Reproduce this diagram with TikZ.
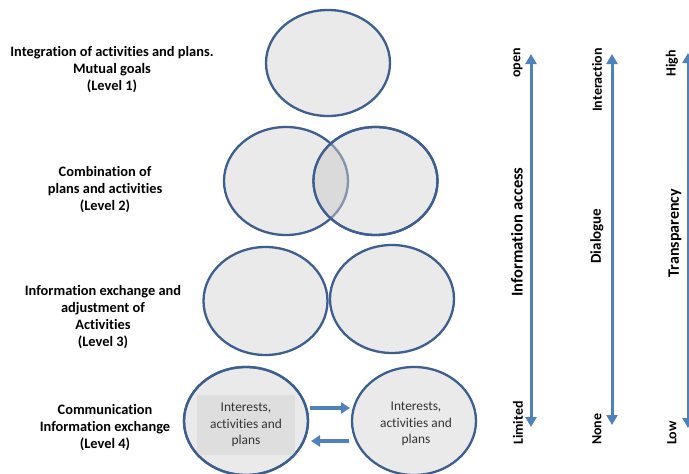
\documentclass[tikz,border=0pt]{standalone}
\usepackage{fontspec}
\setmainfont[Ligatures=NoCommon]{Carlito}
\usetikzlibrary{arrows.meta}
\definecolor{ellfill}{HTML}{EAEAEA}
\definecolor{ellline}{HTML}{3D5E8E}
\definecolor{overlapfill}{HTML}{DADADA}
\definecolor{fadeline}{HTML}{8593A8}
\definecolor{boxfill}{HTML}{DEDEDE}
\definecolor{arrblue}{HTML}{4F81BD}
\tikzset{
  ell/.style={draw=ellline, fill=ellfill, line width=2.3pt},
  lvl/.style={font=\fontsize{14.4}{17}\selectfont\bfseries, align=center},
  inner/.style={font=\fontsize{13.4}{16.5}\selectfont, align=center, text=black!80},
  vlab/.style={font=\fontsize{14}{15}\selectfont\bfseries, rotate=90, inner sep=0pt},
  vtitle/.style={font=\fontsize{15}{16}\selectfont\bfseries, rotate=90, inner sep=0pt},
  varrow/.style={draw=arrblue, line width=3pt, {Triangle[width=11pt,length=10pt]}-{Triangle[width=11pt,length=10pt]}},
  harrow/.style={draw=arrblue, line width=3.5pt, -{Triangle[width=11pt,length=9pt]}}
}
\begin{document}
\begin{tikzpicture}[x=1pt,y=-1pt]
\useasboundingbox (0,0) rectangle (689,474);
% Level 1
\draw[ell] (328,63) ellipse [x radius=62, y radius=53];
% Level 2
\draw[ell] (286,181) ellipse [x radius=62, y radius=54];
\draw[ell] (375.5,181) ellipse [x radius=62, y radius=54];
\begin{scope}
  \clip (286,181) ellipse [x radius=62, y radius=54];
  \fill[overlapfill] (375.5,181) ellipse [x radius=62, y radius=54];
\end{scope}
\begin{scope}
  \clip (375.5,181) ellipse [x radius=62, y radius=54];
  \draw[fadeline, line width=2.3pt] (286,181) ellipse [x radius=62, y radius=54];
\end{scope}
\draw[ellline, line width=2.3pt] (375.5,181) ellipse [x radius=62, y radius=54];
% Level 3
\draw[ell] (265.5,301) ellipse [x radius=62, y radius=54];
\draw[ell] (392,299) ellipse [x radius=62, y radius=54];
% Level 4
\draw[ell] (246,421) ellipse [x radius=62, y radius=54];
\fill[boxfill] (197,395) rectangle (295,455);
\draw[ell, fill=none] (246,421) ellipse [x radius=62, y radius=54];
\draw[ell] (414,421) ellipse [x radius=62, y radius=54];
\node[inner] (t4a) at (246,425) {Interests,\\activities and\\plans};
\node[inner] (t4b) at (416,424) {Interests,\\activities and\\plans};
\coordinate (ha1) at (310,408);
\coordinate (hb1) at (350,408);
\coordinate (ha2) at (349,441);
\coordinate (hb2) at (311,441);
\draw[harrow] (ha1) -- (hb1);
\draw[harrow] (ha2) -- (hb2);
% Level labels
\node[lvl] (l1) at (112,70) {Integration of activities and plans.\\Mutual goals\\(Level 1)};
\node[lvl] (l2) at (105,190) {Combination of\\plans and activities\\(Level 2)};
\node[lvl] (l3) at (103,317) {Information exchange and\\adjustment of\\Activities\\(Level 3)};
\node[lvl] (l4) at (105,428) {Communication\\Information exchange\\(Level 4)};
% Vertical scales
\coordinate (a1t) at (531,54);
\coordinate (a1b) at (531,427);
\coordinate (a2t) at (612,54);
\coordinate (a2b) at (612,425);
\coordinate (a3t) at (688,53);
\coordinate (a3b) at (688,428);
\draw[varrow] (a1b) -- (a1t);
\draw[varrow] (a2b) -- (a2t);
\draw[varrow] (a3b) -- (a3t);
\node[vlab, anchor=east] (o1) at (518,48) {open};
\node[vlab, anchor=west] (o2) at (518,445) {Limited};
\node[vtitle, font=\fontsize{16.5}{17}\selectfont\bfseries] (o3) at (517,232) {Information access};
\node[vlab, anchor=east] (d1) at (597,48) {Interaction};
\node[vlab, anchor=west] (d2) at (597,445) {None};
\node[vtitle] (d3) at (597,236) {Dialogue};
\node[vtitle, font=\fontsize{16}{17}\selectfont\bfseries] (p3) at (675,233) {Transparency};
\node[vlab, anchor=east] (p1) at (672,50) {High};
\node[vlab, anchor=west] (p2) at (672,445) {Low};
\end{tikzpicture}
\end{document}
